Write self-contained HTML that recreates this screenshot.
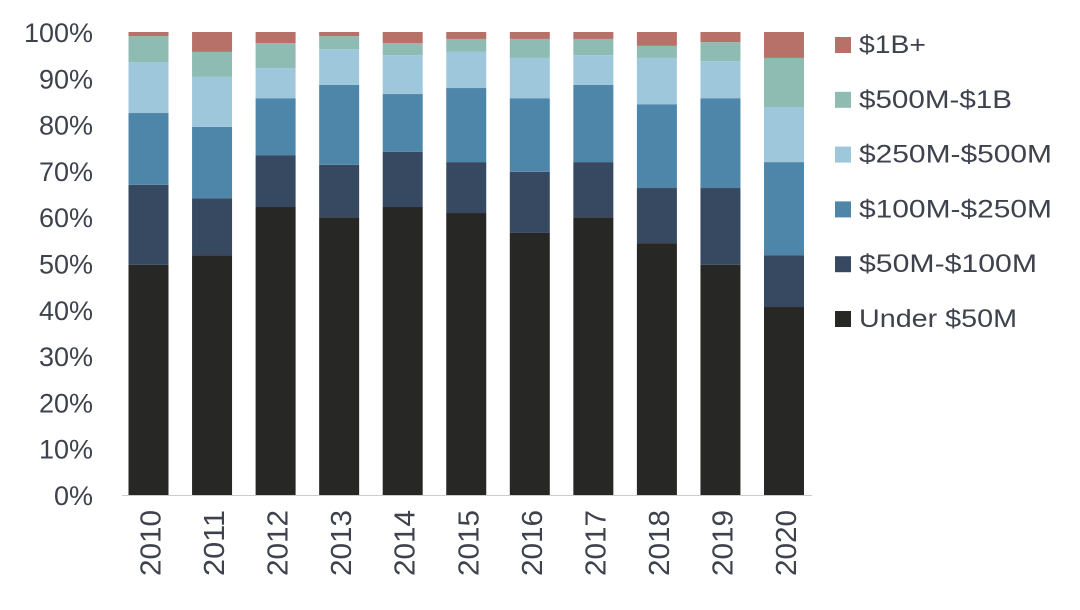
<!DOCTYPE html>
<html><head><meta charset="utf-8"><style>
body{margin:0;background:#fff;width:1080px;height:605px;overflow:hidden;font-family:"Liberation Sans",sans-serif}
svg text{font-family:"Liberation Sans",sans-serif;fill:#3d424c}
</style></head><body>
<svg id="chart" width="1080" height="605" xmlns="http://www.w3.org/2000/svg"></svg>
<script>
const years=["2010","2011","2012","2013","2014","2015","2016","2017","2018","2019","2020"];
const seriesNames=["Under $50M","$50M-$100M","$100M-$250M","$250M-$500M","$500M-$1B","$1B+"];
const under50=[49.7,51.8,62.2,60.0,62.2,60.9,56.6,60.0,54.4,49.7,40.6];
const m50to100=[17.3,12.3,11.2,11.3,11.9,11.0,13.2,11.9,11.9,16.6,11.2];
const m100to250=[15.5,15.4,12.3,17.3,12.5,16.0,15.9,16.7,18.1,19.4,20.1];
const m250to500=[11.0,10.8,6.5,7.7,8.4,7.8,8.7,6.4,10.0,8.0,11.9];
const m500to1b=[5.6,5.4,5.4,2.8,2.6,2.8,4.1,3.5,2.6,4.1,10.6];
const b1plus=[0.9,4.3,2.4,0.9,2.4,1.5,1.5,1.5,3.0,2.2,5.6];
const yTicks=[0,10,20,30,40,50,60,70,80,90,100];
const series=[under50,m50to100,m100to250,m250to500,m500to1b,b1plus];
const colors=["#272725","#374960","#4e86a9","#9ec7dc","#8fbcb2","#b87168"];
const legendWidths=[158,178,193,193,153,67];
const NS="http://www.w3.org/2000/svg";
const svg=document.getElementById("chart");
const y=v=>495-v*4.63;
const xc=i=>148.5+i*63.55;
const bw=40;
function mk(t,a){const e=document.createElementNS(NS,t);for(const k in a)e.setAttribute(k,a[k]);svg.appendChild(e);return e;}
yTicks.forEach(t=>{
  const e=mk("text",{x:93,y:y(t)+10,"text-anchor":"end","font-size":"27"});
  e.textContent=t+"%";
  
  
});
years.forEach((yr,i)=>{
  let cum=0;
  series.forEach((s,j)=>{
    const r=mk("rect",{x:xc(i)-bw/2,y:y(cum+s[i]),width:bw,height:s[i]*4.63,fill:colors[j]});
    
    
    cum+=s[i];
  });
  const t=mk("text",{x:0,y:0,"text-anchor":"end","font-size":"29",textLength:"66",lengthAdjust:"spacingAndGlyphs",transform:`translate(${xc(i)+12},510) rotate(-90)`});
  t.textContent=yr;
  
  
});
const ax=mk("line",{x1:122,x2:812,y1:495.5,y2:495.5,stroke:"#ccc","stroke-width":1});


for(let k=0;k<6;k++){
  const j=5-k, by=53+k*54.8;
  const r=mk("rect",{x:835,y:by-16,width:16,height:16,fill:colors[j]});
  
  
  const t=mk("text",{x:859,y:by,"font-size":"25",textLength:legendWidths[j],lengthAdjust:"spacingAndGlyphs"});
  t.textContent=seriesNames[j];
  
  
}
</script>
</body></html>
